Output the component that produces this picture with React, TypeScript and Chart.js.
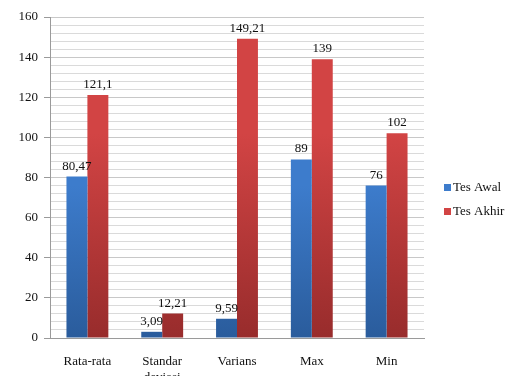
import React, { useEffect, useRef } from "react";
import { Chart, registerables } from "chart.js";

Chart.register(...registerables);

const categories: (string | string[])[] = ["Rata-rata", ["Standar", "deviasi"], "Varians", "Max", "Min"];
const tesAwal = [80.47, 3.09, 9.59, 89, 76];
const tesAkhir = [121.1, 12.21, 149.21, 139, 102];
const seriesNames = ["Tes Awal", "Tes Akhir"];
const yMin = 0;
const yMax = 160;
const yMajorStep = 20;
const yMinorStep = 4;

const FONT = "'Liberation Serif', 'Times New Roman', serif";
const blueTop = "#3d7ccc";
const blueBottom = "#2a5c9c";
const redTop = "#d24444";
const redBottom = "#982c2c";

const fmt = (v: number) => String(v).replace(".", ",");

const gradientPlugin = {
  id: "barGradient",
  beforeDatasetsDraw(chart: any) {
    const ctx = chart.ctx;
    chart.data.datasets.forEach((ds: any, i: number) => {
      const meta = chart.getDatasetMeta(i);
      const top = i === 0 ? blueTop : redTop;
      const bot = i === 0 ? blueBottom : redBottom;
      meta.data.forEach((el: any) => {
        const g = ctx.createLinearGradient(0, el.y, 0, el.base);
        g.addColorStop(0, top);
        g.addColorStop(1, bot);
        el.options.backgroundColor = g;
      });
    });
  },
};

const labelPlugin = {
  id: "valueLabels",
  afterDatasetsDraw(chart: any) {
    const ctx = chart.ctx;
    ctx.save();
    ctx.font = `13px ${FONT}`;
    ctx.fillStyle = "#111";
    ctx.textAlign = "center";
    ctx.textBaseline = "alphabetic";
    chart.data.datasets.forEach((ds: any, i: number) => {
      const meta = chart.getDatasetMeta(i);
      meta.data.forEach((el: any, j: number) => {
        ctx.fillText(fmt(ds.data[j]), el.x, el.y - 7);
      });
    });
    ctx.restore();
  },
};

const legendPlugin = {
  id: "sideLegend",
  afterDraw(chart: any) {
    const ctx = chart.ctx;
    ctx.save();
    ctx.font = `13px ${FONT}`;
    ctx.textBaseline = "middle";
    ctx.textAlign = "left";
    const colors = [blueTop, redTop];
    seriesNames.forEach((name, i) => {
      const y = 187 + i * 24;
      ctx.fillStyle = colors[i];
      ctx.fillRect(444, y - 3, 7, 7);
      ctx.fillStyle = "#111";
      ctx.fillText(name, 453, y + 1);
    });
    ctx.restore();
  },
};

export default function App() {
  const ref = useRef<HTMLCanvasElement>(null);
  useEffect(() => {
    if (!ref.current) return;
    const chart = new Chart(ref.current, {
      type: "bar",
      data: {
        labels: categories,
        datasets: [
          { label: seriesNames[0], data: tesAwal, backgroundColor: blueTop },
          { label: seriesNames[1], data: tesAkhir, backgroundColor: redTop },
        ],
      },
      options: {
        animation: false,
        responsive: true,
        maintainAspectRatio: false,
        layout: { padding: { top: 17, right: 84, left: 0, bottom: 0 } },
        datasets: { bar: { categoryPercentage: 0.56, barPercentage: 1 } },
        plugins: { legend: { display: false }, tooltip: { enabled: false } },
        scales: {
          x: {
            grid: { display: false },
            border: { display: true, color: "#9a9a9a", width: 1 },
            ticks: { color: "#111", font: { family: FONT, size: 13 }, padding: 8, maxRotation: 0, autoSkip: false },
            afterFit: (s: any) => { s.height = 38; },
          },
          y: {
            min: yMin,
            max: yMax,
            border: { display: true, color: "#9a9a9a", width: 1 },
            grid: {
              color: (c: any) => (c.tick && c.tick.value % yMajorStep === 0 ? "#c8c8c8" : "#dadada"),
              tickColor: (c: any) => (c.tick && c.tick.value % yMajorStep === 0 ? "#9a9a9a" : "rgba(0,0,0,0)"),
              tickLength: 6,
            },
            ticks: {
              stepSize: yMinorStep,
              autoSkip: false,
              maxTicksLimit: 100,
              padding: 6,
              color: "#111",
              font: { family: FONT, size: 13 },
              callback: (v: any) => (Number(v) % yMajorStep === 0 ? String(v) : ""),
            },
            afterFit: (s: any) => { s.width = 50; },
          },
        },
      },
      plugins: [gradientPlugin, labelPlugin, legendPlugin],
    });
    return () => chart.destroy();
  }, []);
  return (
    <div style={{ position: "fixed", left: 0, top: 0, width: 508, height: 376, background: "#fff" }}>
      <canvas ref={ref} />
    </div>
  );
}
